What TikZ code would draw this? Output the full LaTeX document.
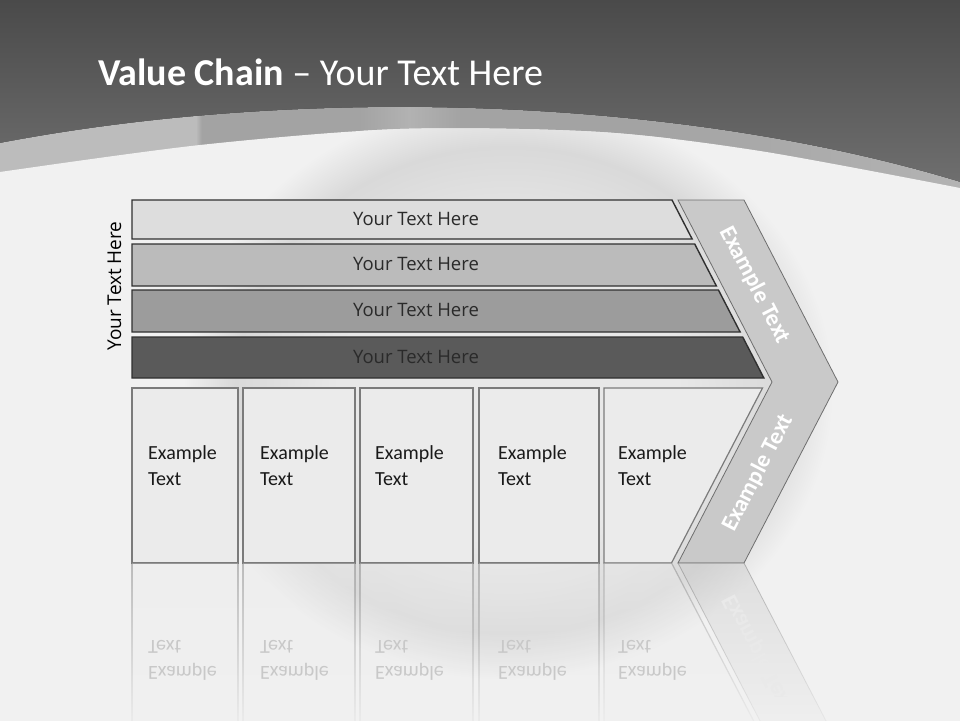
\documentclass[tikz,border=0pt]{standalone}
\usepackage{fontspec}
\setmainfont{Carlito}
\newfontfamily\labelfont{Open Sans}
\usetikzlibrary{positioning, calc, fadings}

% colours of the slide
\definecolor{headtop}{HTML}{4A4A4A}
\definecolor{headbot}{HTML}{727272}
\definecolor{bandlight}{HTML}{BCBCBC}
\definecolor{banddark}{HTML}{A3A3A3}
\definecolor{bandmid}{HTML}{B2B2B2}
\definecolor{bandright}{HTML}{B3B3B3}
\definecolor{bodybg}{HTML}{F1F1F1}
\definecolor{ringgray}{HTML}{D9D9D9}
\definecolor{ringin}{HTML}{E8E8E8}
\definecolor{barA}{HTML}{DDDDDD}
\definecolor{barB}{HTML}{BBBBBB}
\definecolor{barC}{HTML}{9C9C9C}
\definecolor{barD}{HTML}{5A5A5A}
\definecolor{barline}{HTML}{303030}
\definecolor{bartxt}{HTML}{2A2A2A}
\definecolor{boxfill}{HTML}{EBEBEB}
\definecolor{boxline}{HTML}{7B7B7B}
\definecolor{chevfill}{HTML}{C9C9C9}
\definecolor{chevline}{HTML}{6E6E6E}
\definecolor{reflgray}{HTML}{C8C8C8}

% fading for the mirror image under the boxes
\tikzfading[name=reflect fade, top color=transparent!55, bottom color=transparent!100]

% shading of the curved band
\pgfdeclarehorizontalshading{bandshade}{100bp}{color(0bp)=(bandlight); color(25bp)=(bandlight); color(35.2bp)=(bandlight); color(35.5bp)=(banddark); color(43.7bp)=(banddark); color(46.3bp)=(bandmid); color(49bp)=(banddark); color(58.3bp)=(banddark); color(75bp)=(bandright); color(100bp)=(bandright)}

% soft round shadow behind the chart
\pgfdeclareradialshading{ringshade}{\pgfpoint{0bp}{0bp}}{color(0bp)=(ringin); color(13bp)=(ringin); color(21bp)=(ringgray); color(25bp)=(bodybg); color(50bp)=(bodybg)}

\tikzset{
  barbox/.style={draw=barline, line width=1.4pt, line join=miter},
  bartext/.style={font=\labelfont\fontsize{18.5}{22}\selectfont, text=bartxt},
  itembox/.style={draw=boxline, fill=boxfill, line width=1.2pt},
  itemtext/.style={font=\fontsize{20}{26}\selectfont, align=left, anchor=north west, inner sep=0pt, text=black!90},
  chevron/.style={draw=chevline, fill=chevfill, line width=0.8pt, line join=miter},
  chevtext/.style={font=\bfseries\fontsize{23.5}{28}\selectfont, text=white},
  reflection/.style={path fading=reflect fade},
}

\begin{document}
\begin{tikzpicture}[x=1pt, y=-1pt]
    \useasboundingbox (0,0) rectangle (960,720);

    % dark header
    \shade[top color=headtop, bottom color=headbot] (0,0) rectangle (960,200);

    % curved band under the header
    \fill[shading=bandshade] (0,143) arc[start angle=-116.4, end angle=-51.5, x radius=900, y radius=345] -- (960,730) -- (0,730) -- cycle;

    % light body of the slide
    \fill[bodybg] plot[smooth] coordinates {(0,172) (200,145) (400,129) (600,132) (760,151) (960,188)} -- (960,730) -- (0,730) -- cycle;

    % round shadow, kept inside the body
    \begin{scope}
        \clip plot[smooth] coordinates {(0,172) (200,145) (400,129) (600,132) (760,151) (960,188)} -- (960,730) -- (0,730) -- cycle;
        \shade[shading=ringshade] (508,390) ellipse[x radius=325, y radius=290];
    \end{scope}

    % title
    \node[anchor=base west, inner sep=0pt, text=white, font=\fontsize{38}{42}\selectfont] (title) at (98,85) {\textbf{Value Chain} – Your Text Here};

    % side label
    \node[bartext, text=black, font=\labelfont\fontsize{19}{22}\selectfont, rotate=90] (sidelabel) at (114.5,286) {Your Text Here};

    % the four support bars
    \foreach \i/\yt/\yb/\col in {1/200/239/barA, 2/244/286/barB, 3/290/332/barC, 4/337/378/barD}{
        \draw[barbox, fill=\col] (132,\yt) -- ({672+(\yt-200)*0.516},\yt) -- ({672+(\yb-200)*0.516},\yb) -- (132,\yb) -- cycle;
        \node[bartext] (bar\i) at (416,{(\yt+\yb)/2-1}) {Your Text Here};
    }

    % the primary boxes
    \foreach \i/\xl/\xr/\xt in {1/132/238/148, 2/243/355/260, 3/360/473/375, 4/479/599/498}{
        \draw[itembox] (\xl,388) rectangle (\xr,563);
        \node[itemtext] (item\i) at (\xt,445) {Example\\Text};
    }
    % last box follows the chevron
    \draw[itembox] (604,388) -- (762.5,388) -- (671.5,563) -- (604,563) -- cycle;
    \node[itemtext] (item5) at (618,445) {Example\\Text};

    % chevron (margin)
    \draw[chevron] (678,200) -- (744,200) -- (838,382) -- (744,563) -- (678,563) -- (772,382) -- cycle;
    \node[chevtext, rotate=-62.7] (chevup) at (755,285) {Example Text};
    \node[chevtext, rotate=62.7] (chevdown) at (758,473) {Example Text};

    % mirror image under the boxes
    \foreach \xl/\xr in {132/238, 243/355, 360/473, 479/599}
        \path[itembox, reflection] (\xl,563) rectangle (\xr,739);
    \path[itembox, reflection] (604,563) -- (671.5,563) -- (762.5,738) -- (604,738) -- cycle;
    \path[chevron, reflection] (678,563) -- (744,563) -- (838,744) -- (772,744) -- cycle;

    \begin{scope}[shift={(0,1126)}, yscale=-1, every node/.append style={transform shape}]
        \foreach \i/\xt in {1/148, 2/260, 3/375, 4/498, 5/618}
            \node[itemtext, text=reflgray] (mirror\i) at (\xt,445) {Example\\Text};
        \begin{scope}
            \clip (640,430) rectangle (960,563);
            \node[chevtext, rotate=62.7, text=white!60!chevfill] (mirrorchev) at (758,473) {Example Text};
        \end{scope}
    \end{scope}

\end{tikzpicture}
\end{document}
